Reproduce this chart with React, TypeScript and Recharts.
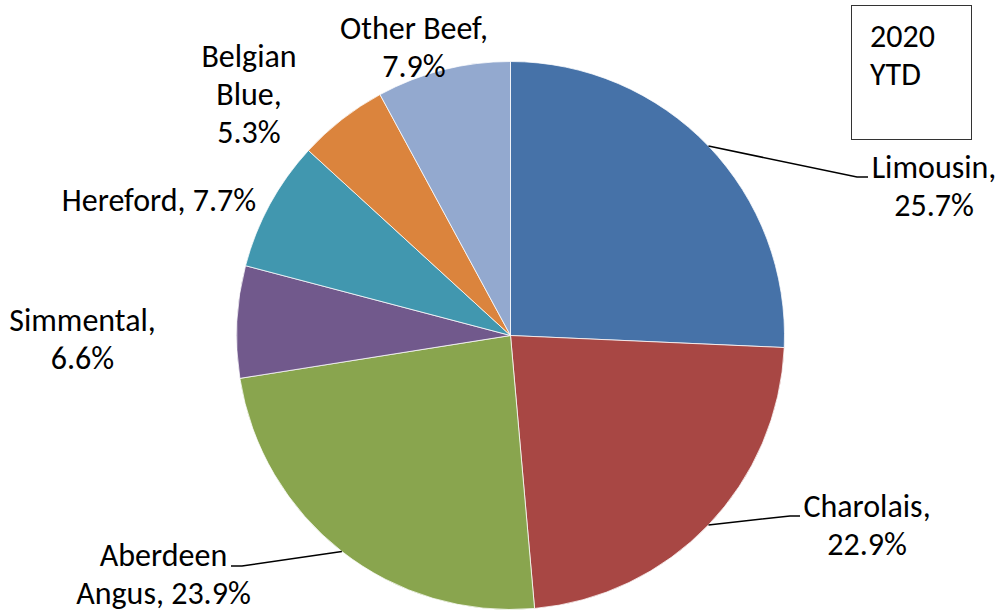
import React from 'react';
import { PieChart, Pie, Cell } from 'recharts';

const breeds = ['Limousin', 'Charolais', 'Aberdeen Angus', 'Simmental', 'Hereford', 'Belgian Blue', 'Other Beef'];
const shares = [25.7, 22.9, 23.9, 6.6, 7.7, 5.3, 7.9];
const colors = ['#4672A8', '#A84744', '#89A54E', '#71598C', '#4197AF', '#DB843D', '#93A9CF'];
const boxLines = ['2020', 'YTD'];

const data = breeds.map((name, i) => ({ name, value: shares[i] }));

const FONT = 'Calibri, Carlito, Lato, sans-serif';
const FONT_SIZE = 32;
const LINE_H = 38;
const RAD = Math.PI / 180;

// label placement relative to the pie centre; words = words per line
const labelLayout: Record<string, { dx: number; dy: number; words: number[]; leader?: number[][] }> = {
  Limousin: { dx: 423.5, dy: -157.5, words: [1, 1], leader: [[346.5, -158.5], [357.5, -158.5]] },
  Charolais: { dx: 356.5, dy: 181.5, words: [1, 1], leader: [[279.5, 180.5], [289.5, 180.5]] },
  'Aberdeen Angus': { dx: -347, dy: 230.5, words: [1, 2], leader: [[-268.5, 230.5], [-279.5, 230.5]] },
  Simmental: { dx: -428, dy: -4.5, words: [1, 1] },
  Hereford: { dx: -351.5, dy: -124.5, words: [2] },
  'Belgian Blue': { dx: -261.5, dy: -268.5, words: [1, 1, 1] },
  'Other Beef': { dx: -96.5, dy: -296.5, words: [2, 1] },
};

const renderLabel = (props: any) => {
  const { cx, cy, midAngle, outerRadius, name, value } = props;
  const layout = labelLayout[name];
  if (!layout) return null;
  const words = `${name}, ${Number(value).toFixed(1)}%`.split(' ');
  const lines: string[] = [];
  let k = 0;
  layout.words.forEach((n) => {
    lines.push(words.slice(k, k + n).join(' '));
    k += n;
  });
  const x = cx + layout.dx;
  const y = cy + layout.dy;
  let path = '';
  if (layout.leader) {
    const sx = cx + outerRadius * Math.cos(-midAngle * RAD);
    const sy = cy + outerRadius * Math.sin(-midAngle * RAD);
    path = `M${sx},${sy}` + layout.leader.map(([px, py]) => ` L${cx + px},${cy + py}`).join('');
  }
  return (
    <g>
      {path && <path d={path} stroke="#000" strokeWidth={1.5} fill="none" />}
      <text x={x} y={y} textAnchor="middle" fill="#000" fontSize={FONT_SIZE} fontFamily={FONT}>
        {lines.map((l, i) => (
          <tspan key={i} x={x} y={y + i * LINE_H}>
            {l}
          </tspan>
        ))}
      </text>
    </g>
  );
};

export default function App() {
  return (
    <div style={{ position: 'relative', width: 999, height: 613, background: '#fff' }}>
      <style>{`body{margin:0}`}</style>
      <PieChart width={999} height={613} margin={{ top: 0, right: 0, bottom: 0, left: 0 }}>
        <Pie
          data={data}
          dataKey="value"
          nameKey="name"
          cx={510.5}
          cy={335.5}
          outerRadius={274}
          startAngle={90}
          endAngle={-270}
          stroke="#ffffff"
          strokeWidth={0.75}
          label={renderLabel}
          labelLine={false}
          isAnimationActive={false}
        >
          {data.map((entry, i) => (
            <Cell key={entry.name} fill={colors[i]} />
          ))}
        </Pie>
      </PieChart>
      <div
        style={{
          position: 'absolute',
          left: 851,
          top: 5,
          width: 121,
          height: 135,
          border: '1.5px solid #333',
          fontFamily: FONT,
          fontSize: FONT_SIZE,
          lineHeight: `${LINE_H}px`,
          paddingLeft: 18,
          paddingTop: 12,
          boxSizing: 'border-box',
          color: '#000',
        }}
      >
        {boxLines.map((t) => (
          <div key={t}>{t}</div>
        ))}
      </div>
    </div>
  );
}
